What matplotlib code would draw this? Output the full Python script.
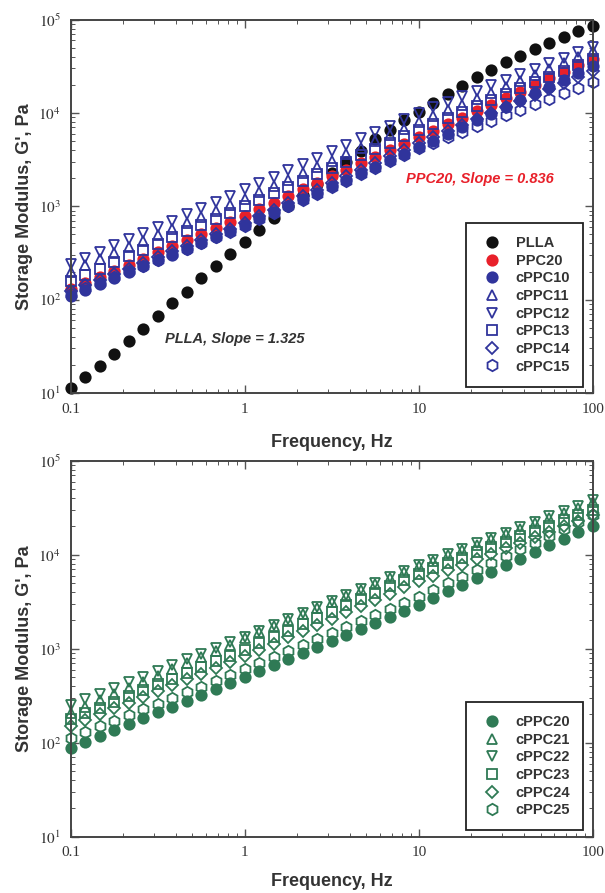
import matplotlib
matplotlib.use("Agg")
import matplotlib.pyplot as plt
from matplotlib.ticker import FixedLocator, LogLocator, NullFormatter

# frequency sweep, Hz (12 points per decade)
freq = [0.1, 0.121, 0.147, 0.178, 0.215, 0.261, 0.316, 0.383, 0.464, 0.562, 0.681, 0.825,
        1.0, 1.21, 1.47, 1.78, 2.15, 2.61, 3.16, 3.83, 4.64, 5.62, 6.81, 8.25,
        10.0, 12.1, 14.7, 17.8, 21.5, 26.1, 31.6, 38.3, 46.4, 56.2, 68.1, 82.5, 100.0]

# top panel, G' in Pa
PLLA = [11.3, 14.7, 19.6, 26.4, 36, 49, 67, 92, 122, 169, 228, 307,
        411, 562, 750, 1000, 1320, 1740, 2300, 3000, 3900, 5200, 6500, 8500,
        10300, 12900, 16000, 19500, 24400, 29000, 35000, 40500, 48000, 56500, 65000, 75000, 85000]
PPC20 = [129, 150, 175, 203, 236, 275, 320, 372, 433, 504, 586, 682,
         794, 933, 1096, 1288, 1514, 1778, 2089, 2455, 2884, 3388, 3981, 4677,
         5495, 6457, 7586, 8913, 10471, 12303, 14454, 16982, 19953, 23442, 27542, 32359, 38019]
cPPC10 = [110, 127, 147, 170, 196, 227, 263, 304, 352, 407, 471, 545,
          631, 740, 867, 1018, 1194, 1400, 1641, 1923, 2254, 2649, 3105, 3639,
          4266, 5042, 5957, 7040, 8318, 9829, 11614, 13725, 16218, 19165, 22646, 26758, 31623]
cPPC11 = [200, 232, 269, 313, 363, 422, 490, 569, 661, 767, 891, 1035,
          1202, 1406, 1648, 1928, 2254, 2642, 3090, 3614, 4236, 4955, 5794, 6792,
          7943, 9183, 10641, 12303, 14223, 16482, 19055, 22029, 25527, 29512, 34119, 39537, 45709]
cPPC12 = [240, 280, 326, 380, 443, 516, 603, 703, 818, 955, 1114, 1297,
          1514, 1770, 2075, 2427, 2838, 3327, 3890, 4550, 5333, 6237, 7295, 8551,
          10000, 11455, 13122, 15066, 17258, 19770, 22646, 25942, 29717, 34119, 39084, 44771, 51286]
cPPC13 = [158, 185, 215, 251, 293, 341, 398, 464, 541, 631, 736, 857,
          1000, 1170, 1371, 1603, 1875, 2198, 2570, 3006, 3524, 4121, 4819, 5649,
          6607, 7638, 8851, 10233, 11830, 13709, 15849, 18323, 21232, 24547, 28379, 32885, 38019]
cPPC14 = [123, 142, 163, 187, 215, 248, 285, 328, 378, 435, 499, 574,
          661, 779, 918, 1084, 1279, 1507, 1778, 2099, 2472, 2917, 3443, 4055,
          4786, 5546, 6427, 7464, 8650, 10023, 11614, 13459, 15596, 18113, 20989, 24322, 28184]
cPPC15 = [115, 132, 152, 175, 201, 231, 266, 306, 352, 406, 466, 536,
          617, 723, 847, 995, 1167, 1368, 1603, 1879, 2203, 2588, 3034, 3556,
          4169, 4775, 5470, 6281, 7194, 8241, 9441, 10814, 12388, 14223, 16293, 18664, 21380]

# bottom panel, G' in Pa
cPPC20 = [89, 103, 119, 137, 158, 182, 210, 243, 280, 323, 372, 430,
          495, 575, 667, 774, 898, 1042, 1210, 1403, 1629, 1888, 2193, 2541,
          2951, 3467, 4074, 4786, 5623, 6607, 7762, 9120, 10715, 12589, 14791, 17378, 20417]
cPPC21 = [209, 243, 283, 329, 383, 446, 519, 604, 702, 817, 951, 1107,
          1288, 1493, 1730, 2009, 2328, 2698, 3126, 3622, 4198, 4875, 5649, 6546,
          7586, 8650, 9840, 11220, 12794, 14555, 16596, 18923, 21528, 24547, 27990, 31842, 36308]
cPPC22 = [251, 289, 333, 383, 440, 506, 582, 670, 771, 887, 1019, 1172,
          1349, 1560, 1807, 2089, 2415, 2799, 3236, 3741, 4335, 5012, 5794, 6714,
          7762, 8872, 10116, 11561, 13183, 15066, 17179, 19634, 22387, 25586, 29174, 33343, 38019]
cPPC23 = [178, 205, 236, 272, 314, 361, 417, 481, 553, 638, 736, 847,
          977, 1143, 1334, 1560, 1820, 2128, 2483, 2904, 3388, 3963, 4624, 5408,
          6310, 7194, 8185, 9333, 10641, 12106, 13804, 15740, 17906, 20417, 23281, 26485, 30200]
cPPC24 = [151, 175, 201, 232, 267, 308, 355, 409, 471, 543, 627, 721,
          832, 970, 1130, 1318, 1538, 1791, 2089, 2438, 2838, 3311, 3864, 4498,
          5248, 5998, 6871, 7852, 8974, 10280, 11749, 13428, 15382, 17579, 20091, 23014, 26303]
cPPC25 = [112, 129, 149, 171, 196, 226, 260, 299, 344, 396, 455, 524,
          603, 698, 809, 940, 1089, 1262, 1462, 1694, 1963, 2280, 2642, 3062,
          3548, 4198, 4955, 5861, 6918, 8185, 9661, 11429, 13490, 15959, 18836, 22284, 26303]

BLUE = "#30349c"
GREEN = "#2f7a55"
TXT = "#333333"

top_series = [
    ("PLLA", PLLA, "o", "#111111", True),
    ("PPC20", PPC20, "o", "#e8202a", True),
    ("cPPC10", cPPC10, "o", BLUE, True),
    ("cPPC11", cPPC11, "^", BLUE, False),
    ("cPPC12", cPPC12, "v", BLUE, False),
    ("cPPC13", cPPC13, "s", BLUE, False),
    ("cPPC14", cPPC14, "D", BLUE, False),
    ("cPPC15", cPPC15, "h", BLUE, False),
]
bottom_series = [
    ("cPPC20", cPPC20, "o", GREEN, True),
    ("cPPC21", cPPC21, "^", GREEN, False),
    ("cPPC22", cPPC22, "v", GREEN, False),
    ("cPPC23", cPPC23, "s", GREEN, False),
    ("cPPC24", cPPC24, "D", GREEN, False),
    ("cPPC25", cPPC25, "h", GREEN, False),
]
sizes = {"o": 7.5, "^": 7.5, "v": 7.5, "s": 6.8, "D": 6.0, "h": 8.2}

plt.rcParams["mathtext.fontset"] = "stix"

fig = plt.figure(figsize=(6.05, 8.93), dpi=100)
ax_top = fig.add_axes([0.117, 0.560, 0.863, 0.418])
ax_bot = fig.add_axes([0.117, 0.063, 0.863, 0.421])


def style_axes(ax, xpad):
    ax.set_xscale("log")
    ax.set_yscale("log")
    ax.set_xlim(0.1, 100)
    ax.set_ylim(10, 1e5)
    for sp in ax.spines.values():
        sp.set_linewidth(1.4)
        sp.set_color("#444444")
    ax.xaxis.set_major_locator(FixedLocator([0.1, 1, 10, 100]))
    ax.set_xticklabels(["0.1", "1", "10", "100"], family="Liberation Serif",
                       fontsize=11, color=TXT)
    ax.yaxis.set_major_locator(FixedLocator([10, 100, 1e3, 1e4, 1e5]))
    ax.set_yticklabels([r"$10^1$", r"$10^2$", r"$10^3$", r"$10^4$", r"$10^5$"],
                       fontsize=11, color=TXT)
    ax.xaxis.set_minor_locator(LogLocator(base=10, subs=range(2, 10)))
    ax.yaxis.set_minor_locator(LogLocator(base=10, subs=range(2, 10)))
    ax.xaxis.set_minor_formatter(NullFormatter())
    ax.yaxis.set_minor_formatter(NullFormatter())
    ax.tick_params(which="both", direction="in", top=True, right=True, color="#555555")
    ax.tick_params(which="major", length=6, width=1.0, pad=7)
    ax.tick_params(which="minor", length=3, width=0.7)
    ax.set_xlabel("Frequency, Hz", fontsize=13, fontweight="bold",
                  family="Liberation Sans", color=TXT, labelpad=xpad)
    ax.set_ylabel("Storage Modulus, G', Pa", fontsize=13, fontweight="bold",
                  family="Liberation Sans", color=TXT, labelpad=4)


def draw(ax, series):
    for name, vals, mk, col, filled in series:
        ax.plot(freq, vals, linestyle="none", marker=mk, markersize=sizes[mk],
                markerfacecolor=col if filled else "none", markeredgecolor=col,
                markeredgewidth=1.3, label=name, clip_on=False)
    leg = ax.legend(loc="lower right", bbox_to_anchor=(0.99, 0.005), frameon=True,
                    fancybox=False, edgecolor="#222222", framealpha=1,
                    prop={"family": "Liberation Sans", "weight": "bold", "size": 10.5},
                    handletextpad=0.7, borderpad=0.9, labelspacing=0.25,
                    handlelength=1.8, borderaxespad=0.3)
    leg.get_frame().set_linewidth(1.3)
    leg.set_zorder(5)
    for t in leg.get_texts():
        t.set_color(TXT)


style_axes(ax_top, 13)
draw(ax_top, top_series)
ax_top.text(8.4, 1970, "PPC20, Slope = 0.836", color="#e8202a", fontsize=10.5,
            fontweight="bold", style="italic", family="Liberation Sans", va="center")
ax_top.text(0.346, 38, "PLLA, Slope = 1.325", color=TXT, fontsize=10.5,
            fontweight="bold", style="italic", family="Liberation Sans", va="center")

style_axes(ax_bot, 10)
draw(ax_bot, bottom_series)

fig.savefig("out.png", dpi=100)
